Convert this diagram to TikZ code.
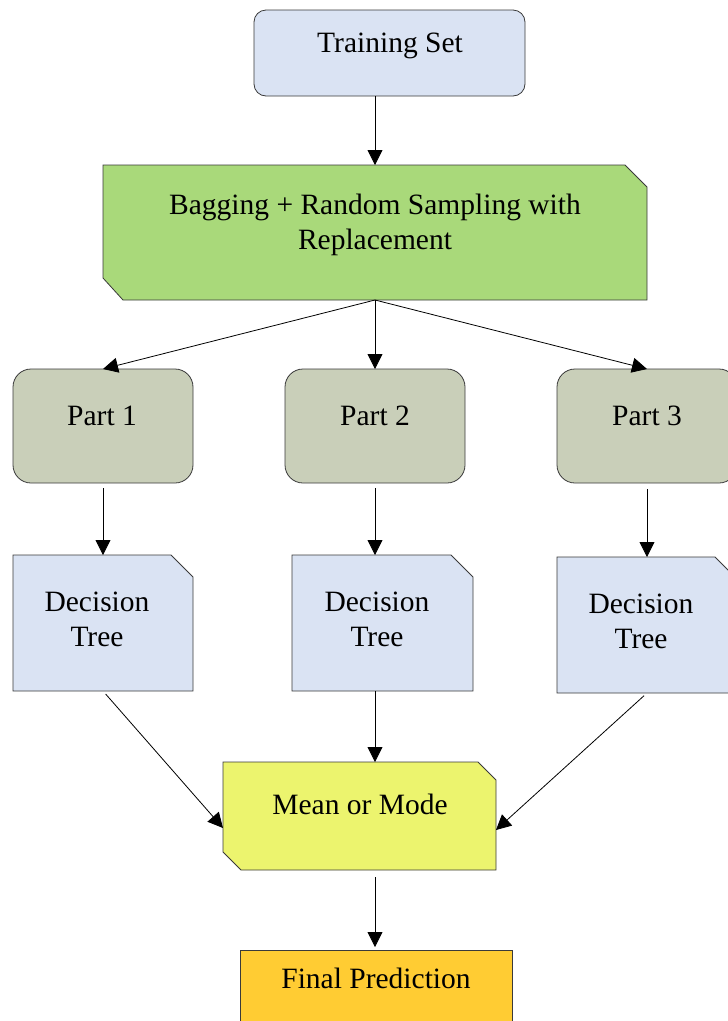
\documentclass[tikz,border=0pt]{standalone}
\usepackage{fontspec}
\setmainfont{Liberation Serif}
\usetikzlibrary{arrows.meta,calc}
\definecolor{edgegray}{HTML}{3A3A3A}
\definecolor{tsblue}{HTML}{DAE3F3}
\definecolor{bggreen}{HTML}{A9D97A}
\definecolor{partgray}{HTML}{C9CFB9}
\definecolor{meanyel}{HTML}{ECF46E}
\definecolor{finalor}{HTML}{FFCC33}
\begin{document}
\begin{tikzpicture}[x=1pt,y=-1pt,
  frame/.style={inner sep=0pt, outer sep=0pt, anchor=north west},
  boxline/.style={draw=edgegray, line width=0.8pt},
  lbl/.style={font=\fontsize{29.5}{35}\selectfont, align=center, inner sep=0pt, anchor=base},
  arr/.style={-{Triangle[length=15pt,width=15pt]}, line width=0.8pt, black},
]
\useasboundingbox (0,0) rectangle (728,1021);
\clip (0,0) rectangle (728,1021);

% Training set
\node[frame, boxline, fill=tsblue, rounded corners=12pt, minimum width=271pt, minimum height=86pt] (ts) at (254,10) {};
% Bagging box (chamfered NE and SW)
\node[frame, minimum width=544pt, minimum height=135pt] (bag) at (103,165) {};
\draw[boxline, fill=bggreen] (bag.north west) -- ([xshift=-22pt]bag.north east) -- ([yshift=-22pt]bag.north east) -- (bag.south east) -- ([xshift=20pt]bag.south west) -- ([yshift=22pt]bag.south west) -- cycle;
% Parts
\node[frame, boxline, fill=partgray, rounded corners=18pt, minimum width=180pt, minimum height=114pt] (p1) at (13,369) {};
\node[frame, boxline, fill=partgray, rounded corners=18pt, minimum width=180pt, minimum height=114pt] (p2) at (285,369) {};
\node[frame, boxline, fill=partgray, rounded corners=18pt, minimum width=180pt, minimum height=114pt] (p3) at (557,369) {};
% Decision trees (chamfered NE)
\node[frame, minimum width=180pt, minimum height=136pt] (dt1) at (13,555) {};
\node[frame, minimum width=181pt, minimum height=136pt] (dt2) at (292,555) {};
\node[frame, minimum width=180pt, minimum height=136pt] (dt3) at (557,557) {};
\foreach \d in {dt1,dt2,dt3}{
  \draw[boxline, fill=tsblue] (\d.north west) -- ([xshift=-22pt]\d.north east) -- ([yshift=-22pt]\d.north east) -- (\d.south east) -- (\d.south west) -- cycle;
}
% Mean or mode (chamfered NE and SW)
\node[frame, minimum width=273pt, minimum height=108pt] (mm) at (223,762) {};
\draw[boxline, fill=meanyel] (mm.north west) -- ([xshift=-18pt]mm.north east) -- ([yshift=-18pt]mm.north east) -- (mm.south east) -- ([xshift=18pt]mm.south west) -- ([yshift=18pt]mm.south west) -- cycle;
% Final prediction
\node[frame, boxline, fill=finalor, minimum width=272pt, minimum height=95pt] (fp) at (240,950) {};

% Labels
\node[lbl] (tts) at (390,52) {Training Set};
\node[lbl, anchor=center] (tbag) at (375,225) {Bagging + Random Sampling with\\Replacement};
\node[lbl] (tp1) at (102,425) {Part 1};
\node[lbl] (tp2) at (375,425) {Part 2};
\node[lbl] (tp3) at (647,425) {Part 3};
\node[lbl, anchor=center] (tdt1) at (97,619) {Decision\\Tree};
\node[lbl, anchor=center] (tdt2) at (377,619) {Decision\\Tree};
\node[lbl, anchor=center] (tdt3) at (641,621) {Decision\\Tree};
\node[lbl] (tmm) at (360,814) {Mean or Mode};
\node[lbl] (tfp) at (376,988) {Final Prediction};

% Connectors
\draw[arr] (ts.south -| bag.north) -- (bag.north);
\draw[arr] (bag.south) -- (p1.north);
\draw[arr] (bag.south) -- (p2.north);
\draw[arr] (bag.south) -- (p3.north);
\draw[arr, shorten <=5pt] (p1.south) -- (dt1.north);
\draw[arr, shorten <=5pt] (p2.south) -- (p2.south |- dt2.north);
\draw[arr, shorten <=6pt] (p3.south) -- (p3.south |- dt3.north);
\draw[arr, shorten <=4pt] (dt1.south) -- ($(mm.west)+(0,12)$);
\draw[arr] (p2.south |- dt2.south) -- (p2.south |- mm.north);
\draw[arr, shorten <=4pt] (dt3.south) -- ($(mm.east)+(0,14)$);
\draw[arr, shorten <=7pt, shorten >=3pt] (p2.south |- mm.south) -- (p2.south |- fp.north);
\end{tikzpicture}
\end{document}
